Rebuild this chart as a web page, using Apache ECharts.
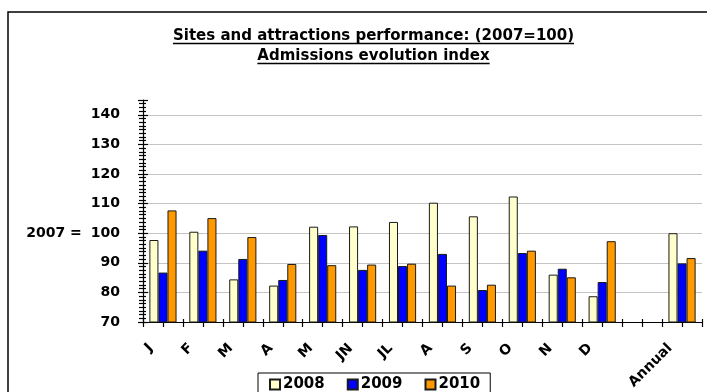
<!DOCTYPE html>
<html>
<head>
<meta charset="utf-8">
<script src="https://cdn.jsdelivr.net/npm/echarts@6/dist/echarts.min.js"></script>
<style>
  html, body { margin: 0; padding: 0; background: #fff; }
  #chart { width: 707px; height: 392px; }
</style>
</head>
<body>
<div id="chart"></div>
<script>
// Month groups plus an empty slot before the annual figure
const categories = ['J', 'F', 'M', 'A', 'M', 'JN', 'JL', 'A', 'S', 'O', 'N', 'D', '', 'Annual'];
const seriesNames = ['2008', '2009', '2010'];
const values2008 = [97.7, 100.5, 84.4, 82.3, 102.2, 102.3, 103.8, 110.3, 105.7, 112.4, 86.0, 78.7, null, 100.0];
const values2009 = [86.7, 94.1, 91.3, 84.2, 99.4, 87.6, 88.9, 93.0, 80.8, 93.3, 88.0, 83.5, null, 89.8];
const values2010 = [107.7, 105.1, 98.7, 89.6, 89.2, 89.4, 89.7, 82.3, 82.6, 94.1, 85.1, 97.3, null, 91.6];
const baseYear = '2007';
const baseValue = 100;
const titleLines = ['Sites and attractions performance: (2007=100)', 'Admissions evolution index'];

const seriesColors = ['#FFFFCC', '#0000FF', '#FF9900'];
const seriesValues = [values2008, values2009, values2010];

const Y_MIN = 70, Y_MAX = 145, Y_STEP = 10;
const GRID = { left: 143, right: 5, top: 100, bottom: 70 };
const HALF_SLOTS = categories.length * 2;

const chart = echarts.init(document.getElementById('chart'), null, { renderer: 'canvas' });

// Title text with underline widths measured from the same font
const titleFont = 'bold 15px "DejaVu Sans"';
const measureCtx = document.createElement('canvas').getContext('2d');
measureCtx.font = titleFont;
const titleCx = 373.5;
const titleY = [36, 56];
const titleGraphics = [];
titleLines.forEach((line, i) => {
  const w = measureCtx.measureText(line).width;
  titleGraphics.push({
    type: 'text', x: titleCx, y: titleY[i],
    style: { text: line, font: titleFont, fill: '#000', align: 'center', verticalAlign: 'middle' }
  });
  titleGraphics.push({
    type: 'line',
    shape: { x1: titleCx - w / 2, y1: titleY[i] + 7.5, x2: titleCx + w / 2, y2: titleY[i] + 7.5 },
    style: { stroke: '#000', lineWidth: 1.6 }
  });
});

// Split lines: hide the one at the top edge of the axis
const splitColors = [];
for (let v = Y_MIN; v <= Y_MAX; v += Y_STEP) splitColors.push('#c4c4c4');
splitColors.push('rgba(0,0,0,0)');

const labelFont = { fontFamily: 'DejaVu Sans', fontWeight: 'bold', color: '#000' };
const tickStyle = { color: '#000', width: 1.2 };

const option = {
  backgroundColor: '#fff',
  animation: false,
  graphic: [
    {
      type: 'rect', shape: { x: 8, y: 12, width: 720, height: 420 },
      style: { fill: 'none', stroke: '#000', lineWidth: 1.5 }, silent: true
    },
    ...titleGraphics
  ],
  legend: {
    data: seriesNames,
    left: 258, top: 373,
    orient: 'horizontal',
    icon: 'rect', itemWidth: 10, itemHeight: 10, itemGap: 22,
    padding: [4, 10, 6, 11],
    borderColor: '#000', borderWidth: 1,
    textStyle: { ...labelFont, fontSize: 15, padding: [0, 0, 0, -2] }
  },
  grid: [
    { ...GRID, containLabel: false },
    { ...GRID, containLabel: false },
    { ...GRID, containLabel: false }
  ],
  xAxis: [
    {
      type: 'category', gridIndex: 0, data: categories,
      axisLine: { show: true, lineStyle: { color: '#000', width: 1.2 } },
      axisTick: { show: false },
      axisLabel: {
        ...labelFont, fontSize: 14, rotate: 45, interval: 0,
        margin: 12, padding: [0, 17, 0, 0], hideOverlap: false
      },
      splitLine: { show: false }
    },
    {
      // crossing ticks every half category: lower part
      type: 'value', gridIndex: 1, min: 0, max: HALF_SLOTS, interval: 1,
      axisLine: { show: false }, axisLabel: { show: false }, splitLine: { show: false },
      axisTick: { show: true, inside: false, length: 5, lineStyle: tickStyle }
    },
    {
      // crossing ticks every half category: upper part
      type: 'value', gridIndex: 2, min: 0, max: HALF_SLOTS, interval: 1,
      axisLine: { show: false }, axisLabel: { show: false }, splitLine: { show: false },
      axisTick: { show: true, inside: true, length: 3, lineStyle: tickStyle }
    }
  ],
  yAxis: [
    {
      type: 'value', gridIndex: 0, min: Y_MIN, max: Y_MAX, interval: Y_STEP,
      axisLine: { show: true, lineStyle: { color: '#000', width: 1.2 } },
      axisTick: { show: true, inside: false, length: 5, lineStyle: tickStyle },
      minorTick: { show: true, splitNumber: 8, length: 4, lineStyle: tickStyle },
      axisLabel: {
        ...labelFont, fontSize: 14, margin: 23, showMaxLabel: false,
        formatter: v => (v === baseValue ? '{base|' + baseYear + ' =}' + v : String(v)),
        rich: { base: { ...labelFont, fontSize: 14, padding: [0, 9, 0, 0] } }
      },
      splitLine: { show: true, lineStyle: { color: splitColors, width: 1.2 } }
    },
    {
      type: 'value', gridIndex: 1, min: Y_MIN, max: Y_MAX, interval: Y_STEP,
      axisLine: { show: false }, axisLabel: { show: false }, splitLine: { show: false },
      axisTick: { show: true, inside: true, length: 5, lineStyle: tickStyle },
      minorTick: { show: true, splitNumber: 8, length: 3, lineStyle: tickStyle }
    },
    {
      type: 'value', gridIndex: 2, min: Y_MIN, max: Y_MAX, show: false
    }
  ],
  series: seriesNames.map((name, i) => ({
    name, type: 'bar', xAxisIndex: 0, yAxisIndex: 0,
    data: seriesValues[i],
    barGap: '0%', barCategoryGap: '32%',
    itemStyle: { color: seriesColors[i], borderColor: '#1a1a1a', borderWidth: 1 }
  }))
};

chart.setOption(option);
</script>
</body>
</html>
